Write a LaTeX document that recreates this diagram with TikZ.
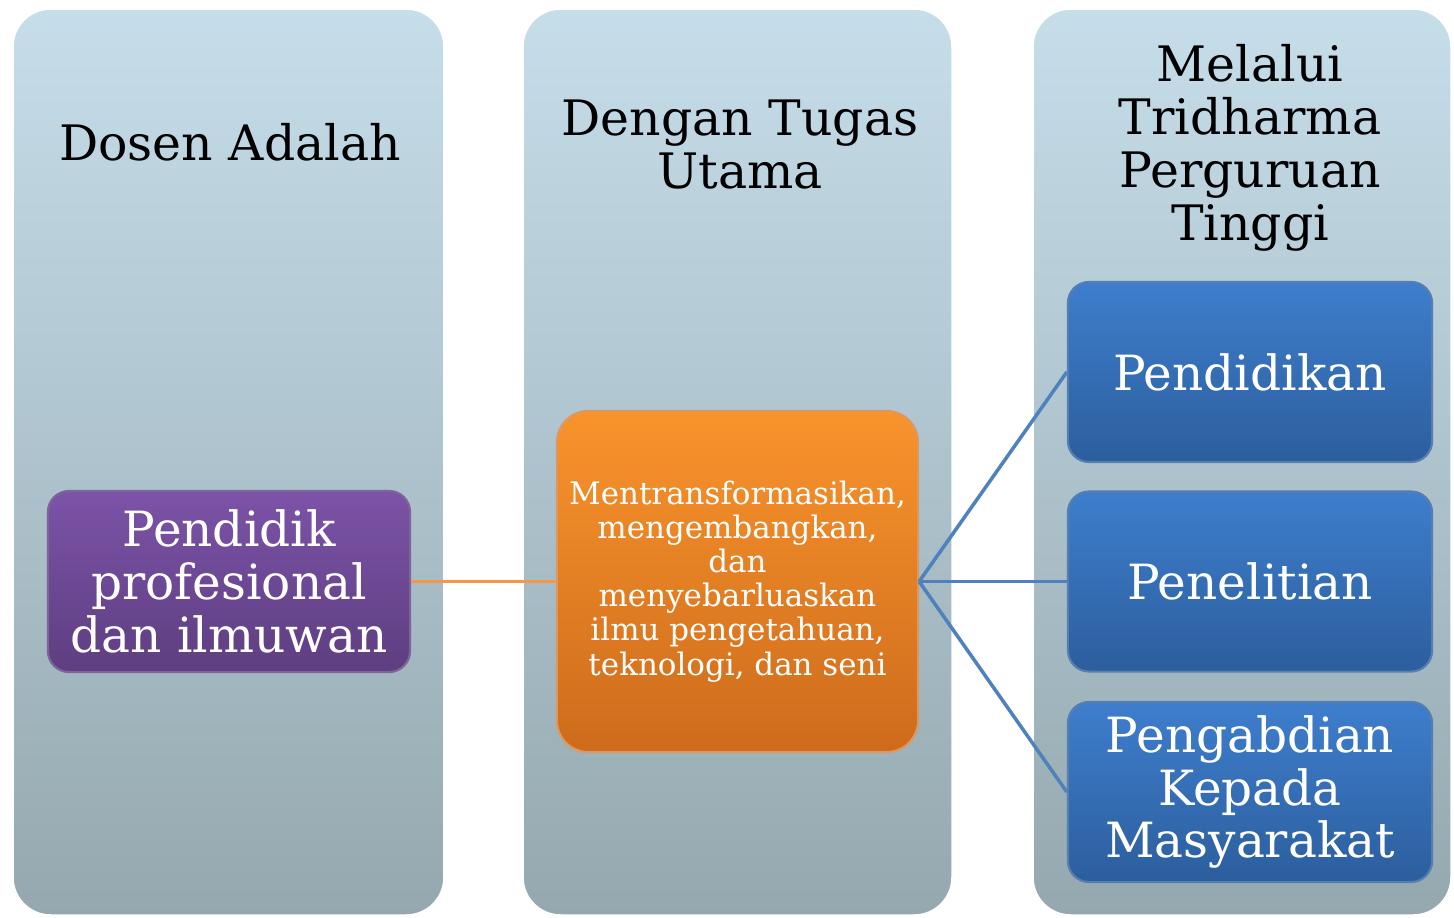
\documentclass[tikz,border=0pt]{standalone}
\usepackage{fontspec}
\setmainfont{DejaVu Serif}
\begin{document}
\begin{tikzpicture}[x=0.01cm,y=-0.01cm,
  column/.style={rounded corners=11pt,top color=colTop,bottom color=colBot,draw=white,line width=1pt},
  titletext/.style={align=center,font=\fontsize{13.9}{15}\selectfont,text=black,inner sep=0pt},
  purplebox/.style={rounded corners=6pt,top color=purpTop,bottom color=purpBot,draw=purpBot!80!white,line width=0.6pt,text=white,align=center,inner sep=0pt},
  orangebox/.style={rounded corners=9pt,top color=oraTop,bottom color=oraBot,draw=oraBot!70!white,line width=0.6pt,text=white,align=center,inner sep=0pt},
  bluebox/.style={rounded corners=6pt,top color=bluTop,bottom color=bluBot,draw=bluBot!80!white,line width=0.6pt,text=white,align=center,inner sep=0pt},
  bigtext/.style={font=\fontsize{13.8}{15}\selectfont},
  smalltext/.style={font=\fontsize{8.8}{9.7}\selectfont},
  orangelink/.style={draw=oraLine,line width=1pt},
  bluelink/.style={draw=bluLine,line width=1pt}]
\definecolor{colTop}{HTML}{C6DEEA}
\definecolor{colBot}{HTML}{95A8AF}
\definecolor{purpTop}{HTML}{7C53A8}
\definecolor{purpBot}{HTML}{5E3E80}
\definecolor{oraTop}{HTML}{F8942C}
\definecolor{oraBot}{HTML}{CE6B1C}
\definecolor{bluTop}{HTML}{3E7ECD}
\definecolor{bluBot}{HTML}{2C5E9D}
\definecolor{oraLine}{HTML}{F79646}
\definecolor{bluLine}{HTML}{4F81BD}
\useasboundingbox (0,0) rectangle (1454,918);
\fill[white] (0,0) rectangle (1454,918);
% columns
\path[column] (12,8) rectangle (445,916);
\path[column] (522,8) rectangle (953,916);
\path[column] (1032,8) rectangle (1452,916);
% titles
\node[titletext,anchor=base] (t1) at (230,160) {Dosen Adalah};
\node[titletext,anchor=base] (t2) at (740,188) {Dengan Tugas\\Utama};
\node[titletext,anchor=base] (t3) at (1250,240) {Melalui\\Tridharma\\Perguruan\\Tinggi};
% boxes
\node[purplebox,bigtext,minimum width=3.62cm,minimum height=1.81cm] (p) at (229,581.5) {Pendidik\\profesional\\dan ilmuwan};
\node[orangebox,smalltext,minimum width=3.61cm,minimum height=3.41cm] (o) at (737.5,581.5) {Mentransformasikan,\\mengembangkan,\\dan\\menyebarluaskan\\ilmu pengetahuan,\\teknologi, dan seni};
\node[bluebox,bigtext,minimum width=3.64cm,minimum height=1.80cm] (b1) at (1250,372) {Pendidikan};
\node[bluebox,bigtext,minimum width=3.64cm,minimum height=1.80cm] (b2) at (1250,581.5) {Penelitian};
\node[bluebox,bigtext,minimum width=3.64cm,minimum height=1.80cm] (b3) at (1250,792) {Pengabdian\\Kepada\\Masyarakat};
% connectors
\draw[orangelink] (p.east) -- (o.west);
\draw[bluelink] (o.east) -- (b1.west);
\draw[bluelink] (o.east) -- (b2.west);
\draw[bluelink] (o.east) -- (b3.west);
\end{tikzpicture}
\end{document}
